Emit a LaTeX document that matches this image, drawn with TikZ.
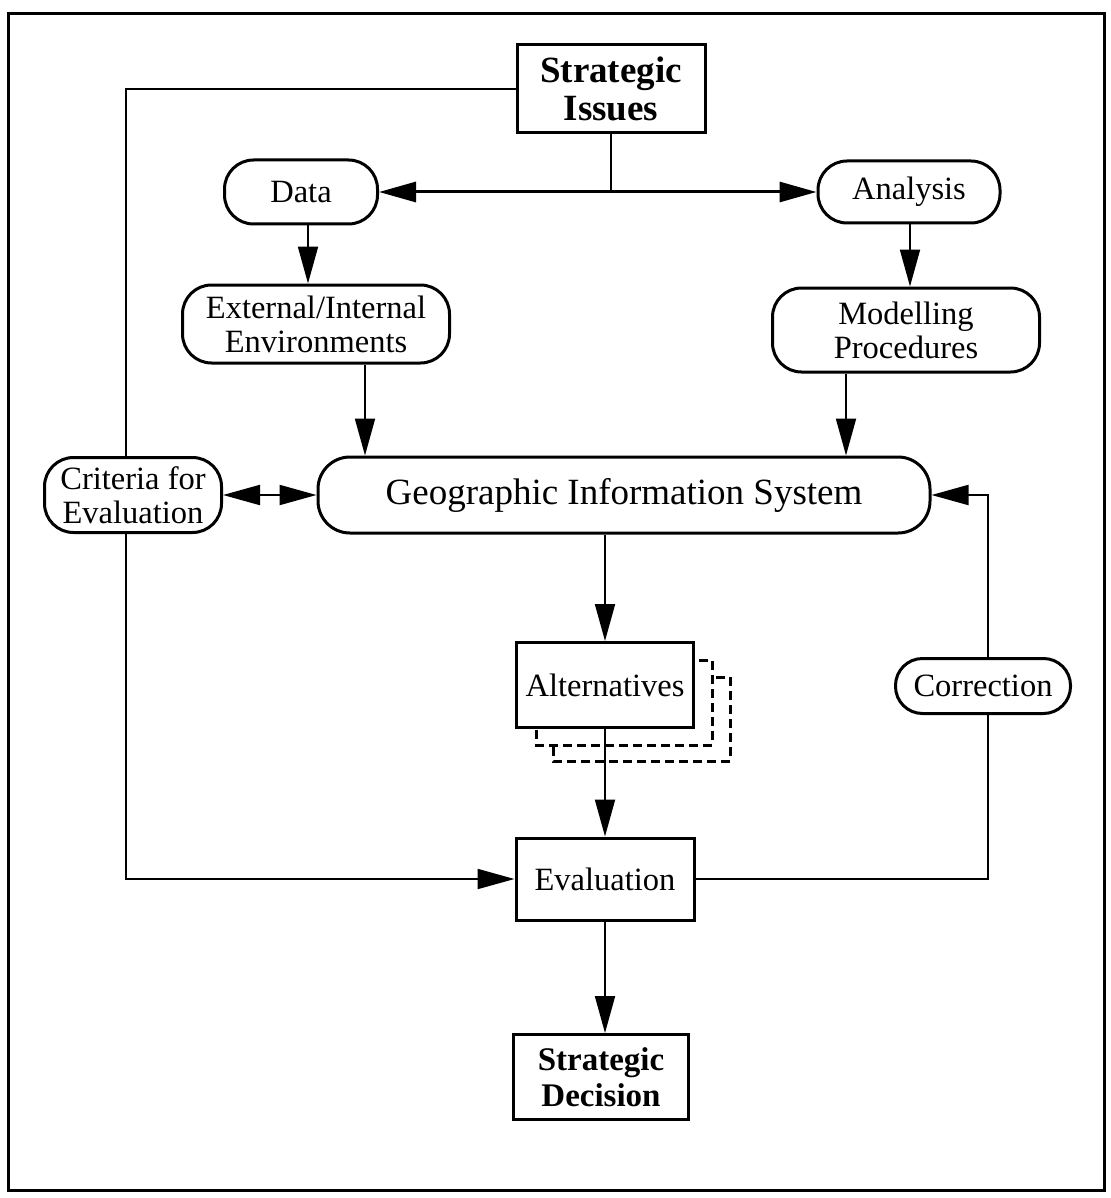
\documentclass[tikz,border=0pt]{standalone}
\usepackage{fontspec}
\setmainfont{Liberation Serif}
\usetikzlibrary{arrows.meta}
\begin{document}
\begin{tikzpicture}[x=1pt,y=-1pt,
  box/.style={draw, line width=3pt, fill=white, inner sep=0pt, align=center,
    font=\fontsize{32.5}{34}\selectfont},
  rbox/.style={box, rounded corners=29pt},
  bbox/.style={box, font=\fontsize{33}{36}\selectfont\bfseries},
  link/.style={line width=2pt},
  tip/.tip={Triangle[length=37pt,width=20pt]},
  arr/.style={link, -tip},
  biarr/.style={link, tip-tip},
  ghost/.style={draw, line width=3pt, dash pattern=on 9pt off 5pt, fill=white}
]
\useasboundingbox (0,0) rectangle (1110,1198);
\fill[white] (0,0) rectangle (1110,1198);
\draw[line width=3pt] (8,14) rectangle (1104,1190);

% top of the flow
\node[bbox, minimum width=188pt, minimum height=88pt,
  font=\fontsize{37}{38}\selectfont\bfseries] (si) at (611,89) {Strategic\\Issues};
\node[rbox, minimum width=153pt, minimum height=64pt] (data) at (301,192) {Data};
\node[rbox, minimum width=182pt, minimum height=62pt] (anal) at (909,192) {Analysis};
\node[rbox, minimum width=267pt, minimum height=78pt] (ext) at (316,324) {External/Internal\\Environments};
\node[rbox, minimum width=267pt, minimum height=84pt] (mod) at (906,330) {Modelling\\Procedures};

% central system and its side nodes
\node[rbox, rounded corners=32pt, minimum width=612pt, minimum height=76pt,
  font=\fontsize{37}{40}\selectfont] (gis) at (624,495) {Geographic Information System};
\node[rbox, minimum width=177pt, minimum height=75pt] (crit) at (133,495) {Criteria for\\Evaluation};
\node[rbox, rounded corners=27pt, minimum width=175pt, minimum height=55pt] (corr) at (983,686) {Correction};

% stacked alternatives
\draw[ghost] (553,677) rectangle (730,761);
\draw[ghost] (536,660) rectangle (712,745);
\node[box, minimum width=177pt, minimum height=85pt] (alt) at (605,685) {Alternatives};

\node[box, minimum width=178pt, minimum height=82pt] (eval) at (605,879) {Evaluation};
\node[bbox, minimum width=175pt, minimum height=85pt] (sd) at (601,1077) {Strategic\\Decision};

% helper columns for vertical connectors
\coordinate (c1) at (308,0);
\coordinate (c2) at (910,0);
\coordinate (c3) at (365,0);
\coordinate (c4) at (846,0);
\coordinate (j) at (611,192);
\coordinate (lt) at (126,89);
\coordinate (lb) at (126,879);
\coordinate (rb) at (988,879);

% connectors
\draw[link] (si.south) -- (j);
\draw[biarr, line width=3pt] (data.east) -- (anal.west);
\draw[arr] (data.south -| c1) -- (ext.north -| c1);
\draw[arr] (anal.south -| c2) -- (mod.north -| c2);
\draw[arr] (ext.south -| c3) -- (gis.north -| c3);
\draw[arr] (mod.south -| c4) -- (gis.north -| c4);
\draw[biarr] (crit.east) -- (gis.west);
\draw[arr] (gis.south -| alt.north) -- (alt.north);
\draw[arr] (alt.south) -- (eval.north);
\draw[arr] (eval.south) -- (sd.north -| eval.south);

% feedback loops
\draw[link] (si.west) -- (lt) -- (crit.north -| lt);
\draw[arr] (crit.south -| lb) -- (lb) -- (eval.west);
\draw[link] (eval.east) -- (rb) -- (corr.south -| rb);
\draw[arr] (corr.north -| rb) -- (rb |- gis.east) -- (gis.east);
\end{tikzpicture}
\end{document}
